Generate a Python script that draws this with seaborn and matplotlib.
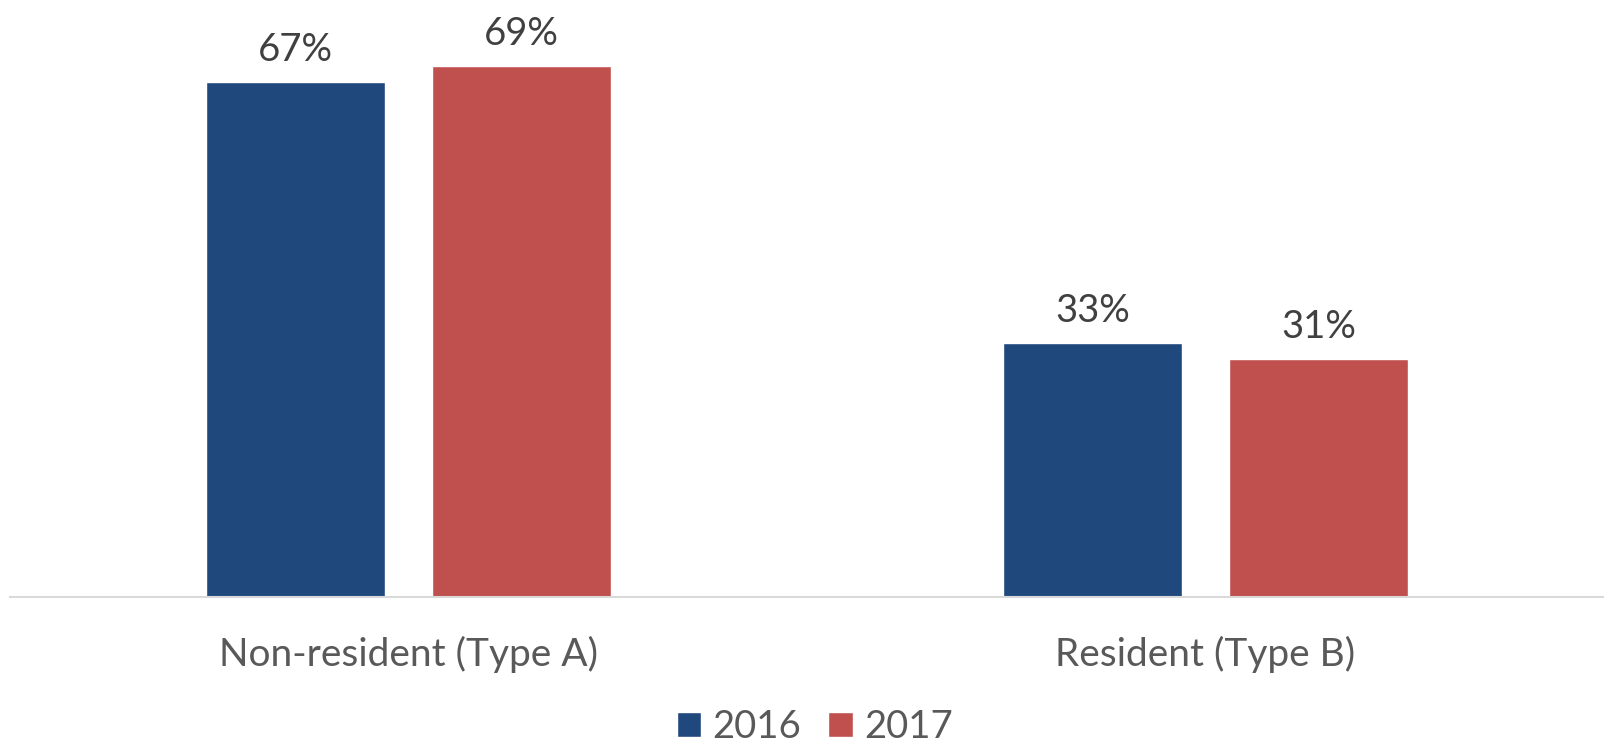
import pandas as pd
import matplotlib.pyplot as plt
import seaborn as sns

categories = ['Non-resident (Type A)', 'Resident (Type B)']
years = ['2016', '2017']
values_2016 = [67, 33]
values_2017 = [69, 31]
colors = ['#1F497D', '#C0504D']

df = pd.DataFrame({
    'category': categories * 2,
    'year': [years[0]] * 2 + [years[1]] * 2,
    'value': values_2016 + values_2017,
})

sns.set_style('white')
plt.rcParams['font.family'] = ['Lato', 'DejaVu Sans']

fig = plt.figure(figsize=(16.04, 7.44), dpi=100)
ax = fig.add_axes([10 / 1604, 1 - 597 / 744, 1 - 10 / 1604, 597 / 744])

sns.barplot(data=df, x='category', y='value', hue='year', palette=colors,
            width=0.568, gap=0.211, ax=ax, legend=True, saturation=1)

for container in ax.containers:
    ax.bar_label(container, labels=[f'{v:.0f}%' for v in container.datavalues],
                 padding=10, fontsize=27.5, color='#404040')

ax.set_xlim(-0.5, 1.5)
ax.set_ylim(0, 77.6)
ax.set_xlabel('')
ax.set_ylabel('')
ax.set_yticks([])
ax.tick_params(axis='x', length=0, pad=28, labelsize=28, labelcolor='#595959')
for side in ['top', 'right', 'left']:
    ax.spines[side].set_visible(False)
ax.spines['bottom'].set_color('#D9D9D9')
ax.spines['bottom'].set_linewidth(1.5)

handles, labels = ax.get_legend_handles_labels()
ax.get_legend().remove()
leg = fig.legend(handles, labels, loc='center', bbox_to_anchor=(0.508, 1 - 727 / 744),
                 ncol=2, frameon=False, fontsize=27.5, handlelength=0.64, handleheight=0.64,
                 handletextpad=0.3, columnspacing=0.7, borderaxespad=0, borderpad=0)
for t in leg.get_texts():
    t.set_color('#595959')

fig.savefig('out.png', dpi=100)
